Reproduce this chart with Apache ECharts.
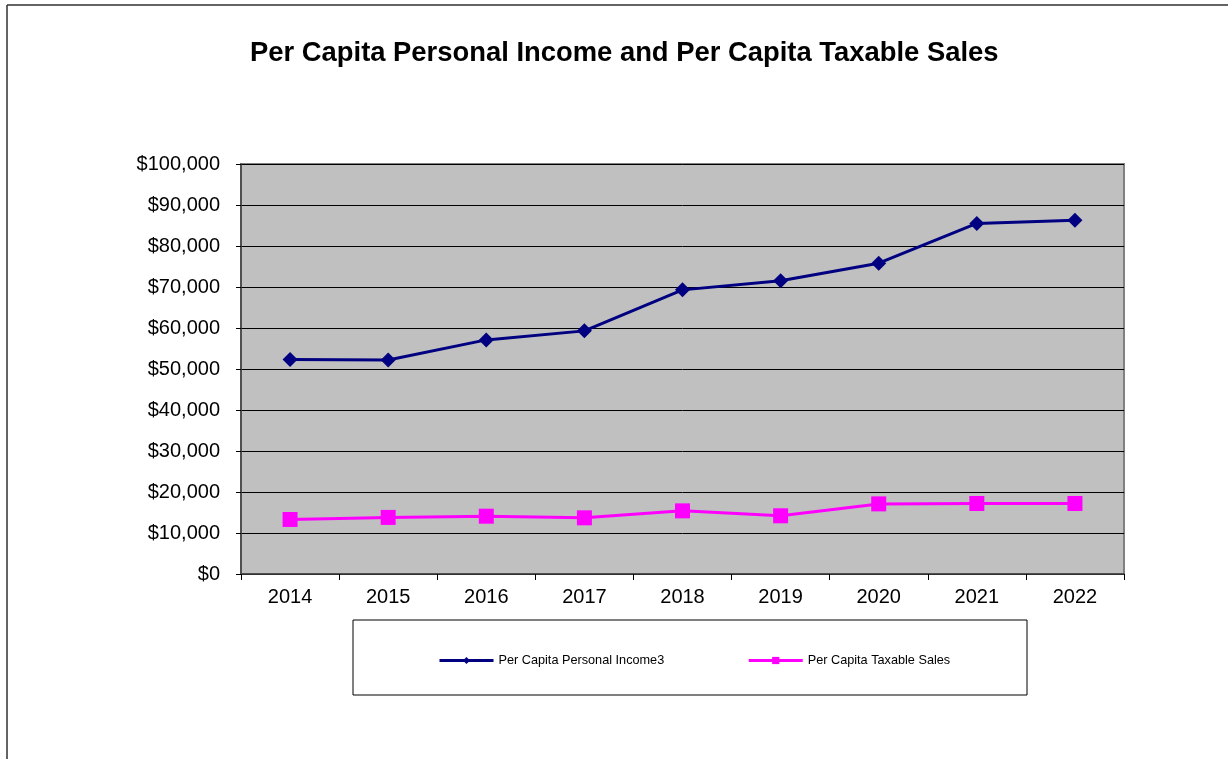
<!DOCTYPE html>
<html>
<head>
<meta charset="utf-8">
<script src="https://cdn.jsdelivr.net/npm/echarts@6/dist/echarts.min.js"></script>
<style>
  html, body { margin: 0; padding: 0; background: #fff; }
  #chart { width: 1228px; height: 759px; }
</style>
</head>
<body>
<div id="chart"></div>
<script>
// values
let years = ["2014", "2015", "2016", "2017", "2018", "2019", "2020", "2021", "2022"];
let income = [52300, 52200, 57100, 59300, 69300, 71500, 75800, 85500, 86300];
let taxable_sales = [13300, 13800, 14100, 13700, 15400, 14200, 17100, 17200, 17200];

let font = "'Liberation Sans', Arial, sans-serif";

function money(v) {
  return "$" + v.toString().replace(/\B(?=(\d{3})+(?!\d))/g, ",");
}

let chart = echarts.init(document.getElementById("chart"));
let option = {
  backgroundColor: "#fff",
  animation: false,
  title: {
    text: "Per Capita Personal Income and Per Capita Taxable Sales",
    left: 245,
    top: 35,
    textStyle: { fontFamily: font, fontSize: 27.4, fontWeight: "bold", color: "#000" }
  },
  grid: {
    left: 241,
    top: 164,
    right: 104,
    bottom: 185,
    show: true,
    backgroundColor: "#C0C0C0",
    borderColor: "#808080",
    borderWidth: 2
  },
  legend: {
    left: 433,
    top: 649,
    itemWidth: 54,
    itemHeight: 9,
    itemGap: 83,
    lineStyle: { width: 3 },
    textStyle: { fontFamily: font, fontSize: 12.7, color: "#000" },
    data: ["Per Capita Personal Income3", "Per Capita Taxable Sales"]
  },
  graphic: [
    { type: "rect", shape: { x: 353, y: 620, width: 674, height: 75 }, style: { fill: "#fff", stroke: "#000", lineWidth: 1 }, z: -1 },
    { type: "line", shape: { x1: 7, y1: 5, x2: 7, y2: 759 }, style: { stroke: "#303030", lineWidth: 1.5 } },
    { type: "line", shape: { x1: 7, y1: 5, x2: 1228, y2: 5 }, style: { stroke: "#303030", lineWidth: 1.5 } }
  ],
  xAxis: {
    type: "category",
    data: years,
    boundaryGap: true,
    axisLine: { lineStyle: { color: "#404040", width: 1.5 } },
    axisTick: { show: true, length: 6, lineStyle: { color: "#000" } },
    axisLabel: { fontFamily: font, fontSize: 20, color: "#000", margin: 13 }
  },
  yAxis: {
    type: "value",
    min: 0,
    max: 100000,
    interval: 10000,
    axisLine: { show: true, lineStyle: { color: "#404040", width: 1.5 } },
    axisTick: { show: true, length: 5, lineStyle: { color: "#000" } },
    axisLabel: { fontFamily: font, fontSize: 20, color: "#000", margin: 21, formatter: money },
    splitLine: { show: true, lineStyle: { color: "#000", width: 1 } }
  },
  series: [
    {
      name: "Per Capita Personal Income3",
      type: "line",
      data: income,
      symbol: "diamond",
      symbolSize: 15,
      lineStyle: { color: "#000080", width: 3 },
      itemStyle: { color: "#000080" }
    },
    {
      name: "Per Capita Taxable Sales",
      type: "line",
      data: taxable_sales,
      symbol: "rect",
      symbolSize: 15,
      lineStyle: { color: "#FF00FF", width: 3 },
      itemStyle: { color: "#FF00FF" }
    }
  ]
};
chart.setOption(option);
</script>
</body>
</html>
